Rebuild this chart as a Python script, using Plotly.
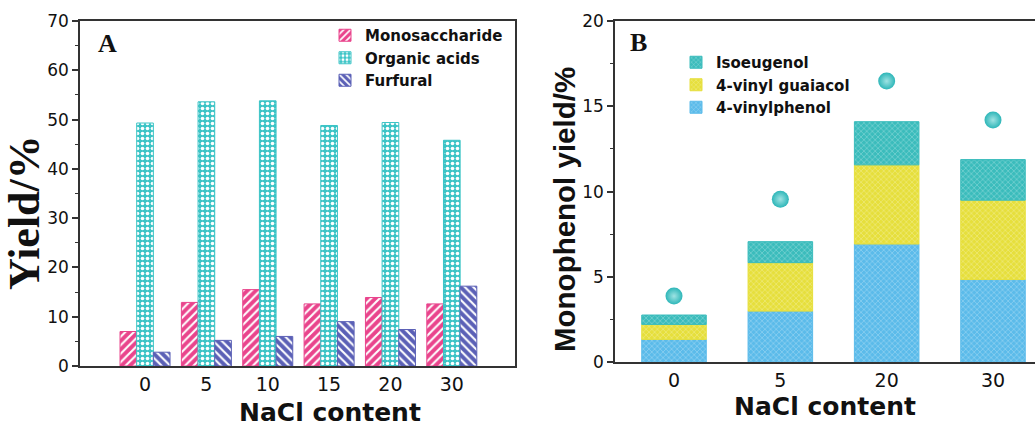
import plotly.graph_objects as go

# ---------------- data: panel A ----------------
nacl_a = ["0", "5", "10", "15", "20", "30"]
monosaccharide = [7.0, 12.9, 15.5, 12.6, 13.9, 12.6]
organic_acids = [49.3, 53.6, 53.8, 48.8, 49.4, 45.8]
furfural = [2.8, 5.2, 6.0, 9.0, 7.4, 16.2]

# ---------------- data: panel B ----------------
nacl_b = ["0", "5", "20", "30"]
vinylphenol = [1.34, 3.0, 6.93, 4.85]
vinyl_guaiacol = [0.88, 2.84, 4.64, 4.65]
isoeugenol = [0.55, 1.23, 2.53, 2.38]
total_monophenol = [3.88, 9.56, 16.48, 14.2]

# stacking bases derived from the data
base_guaiacol = list(vinylphenol)
base_isoeugenol = [a + b for a, b in zip(vinylphenol, vinyl_guaiacol)]

PINK = "#e9448c"
CYAN = "#3cc4c6"
PURPLE = "#5b60b6"
TEAL = "#3bbcbc"
YELLOW = "#e6df3c"
LBLUE = "#5bbbea"
AXC = "#333333"

SANS = "DejaVu Sans"
ARIAL = "Liberation Sans"
SERIF = "Liberation Serif"

W, H = 1035, 429

fig = go.Figure()


def pat_bar(name, x, y, color, shape, size, solidity, xaxis, yaxis, legend,
            fg="white", base=None, width=None, offsetgroup=None):
    return go.Bar(
        name=name, x=x, y=y, base=base, width=width, offsetgroup=offsetgroup,
        xaxis=xaxis, yaxis=yaxis, legend=legend,
        marker=dict(
            color=color,
            line=dict(color=color, width=1),
            pattern=dict(shape=shape, fgcolor=fg, bgcolor=color,
                         size=size, solidity=solidity, fillmode="replace"),
        ),
        hoverinfo="x+y+name",
    )


# Panel A grouped bars
fig.add_trace(pat_bar("Monosaccharide", nacl_a, monosaccharide, PINK, "/", 6, 0.35,
                      "x", "y", "legend"))
fig.add_trace(pat_bar("Organic acids", nacl_a, organic_acids, CYAN, ".", 5, 0.42,
                      "x", "y", "legend"))
fig.add_trace(pat_bar("Furfural", nacl_a, furfural, PURPLE, "\\", 6, 0.35,
                      "x", "y", "legend"))

# Panel B stacked bars (same offset group, bases from cumulative data)
BW = 0.607
MESH = "rgba(255,255,255,0.5)"
fig.add_trace(pat_bar("4-vinylphenol", nacl_b, vinylphenol, LBLUE, "x", 4, 0.22,
                      "x2", "y2", "legend2", fg=MESH, width=BW, offsetgroup="b"))
fig.add_trace(pat_bar("4-vinyl guaiacol", nacl_b, vinyl_guaiacol, YELLOW, "x", 4, 0.22,
                      "x2", "y2", "legend2", fg=MESH, base=base_guaiacol,
                      width=BW, offsetgroup="b"))
fig.add_trace(pat_bar("Isoeugenol", nacl_b, isoeugenol, TEAL, "x", 4, 0.22,
                      "x2", "y2", "legend2", fg=MESH, base=base_isoeugenol,
                      width=BW, offsetgroup="b"))

fig.add_trace(go.Scatter(
    name="Total monophenol", x=nacl_b, y=total_monophenol, mode="markers",
    xaxis="x2", yaxis="y2", showlegend=False,
    marker=dict(size=17, color="#2db6b8",
                gradient=dict(type="radial", color="#9fe3e3"),
                line=dict(width=0)),
))

fig.update_layout(
    width=W, height=H,
    margin=dict(l=0, r=0, t=0, b=0, autoexpand=False),
    paper_bgcolor="white", plot_bgcolor="white",
    barmode="group", bargap=0.185, bargroupgap=0,
    xaxis=dict(
        domain=[80 / W, 515 / W], anchor="y", automargin=False,
        type="category", range=[-1.06, 6.03],
        showline=True, mirror=True, linecolor=AXC, linewidth=1.5,
        ticks="", showgrid=False, zeroline=False,
        tickfont=dict(family=SANS, size=19, color="#111"),
    ),
    yaxis=dict(
        domain=[(H - 366) / H, (H - 21) / H], anchor="x", automargin=False,
        range=[0, 70], dtick=10,
        showline=True, mirror=True, linecolor=AXC, linewidth=1.5,
        ticks="outside", ticklen=6, tickwidth=1.5, tickcolor=AXC,
        minor=dict(ticks="outside", ticklen=3, dtick=5, tickcolor=AXC, tickwidth=1.2),
        showgrid=False, zeroline=False,
        tickfont=dict(family=SANS, size=17, color="#111"),
    ),
    xaxis2=dict(
        domain=[615 / W, 1.0], anchor="y2", automargin=False,
        type="category", range=[-0.555, 3.395],
        showline=True, mirror=True, linecolor=AXC, linewidth=1.5,
        ticks="", showgrid=False, zeroline=False,
        tickfont=dict(family=SANS, size=19, color="#111"),
        title=dict(text="NaCl content", standoff=8,
                   font=dict(family=SANS, size=25, color="#111", weight="bold")),
    ),
    yaxis2=dict(
        domain=[(H - 362.3) / H, (H - 21) / H], anchor="x2", automargin=False,
        range=[0, 20], dtick=5,
        showline=True, mirror=False, linecolor=AXC, linewidth=1.5,
        ticks="outside", ticklen=6, tickwidth=1.5, tickcolor=AXC,
        minor=dict(ticks="outside", ticklen=3, dtick=2.5, tickcolor=AXC, tickwidth=1.2),
        showgrid=False, zeroline=False,
        tickfont=dict(family=SANS, size=17, color="#111"),
    ),
    legend=dict(
        x=325 / W, y=(H - 19) / H, xanchor="left", yanchor="top",
        bgcolor="rgba(0,0,0,0)", traceorder="normal", itemwidth=30,
        font=dict(family=SANS, size=15, color="#111", weight="bold"),
        tracegroupgap=0,
    ),
    legend2=dict(
        x=676 / W, y=(H - 46) / H, xanchor="left", yanchor="top",
        bgcolor="rgba(0,0,0,0)", traceorder="reversed", itemwidth=30,
        font=dict(family=SANS, size=15, color="#111", weight="bold"),
        tracegroupgap=0,
    ),
    annotations=[
        dict(text="NaCl content", xref="paper", yref="paper",
             x=330 / W, y=(H - 412) / H,
             showarrow=False, xanchor="center", yanchor="middle",
             font=dict(family=SANS, size=25, color="#111", weight="bold")),
        dict(text="Yield/%", xref="paper", yref="paper", x=25 / W, y=(H - 213) / H,
             textangle=-90, showarrow=False, xanchor="center", yanchor="middle",
             font=dict(family=SERIF, size=44, color="#111", weight="bold")),
        dict(text="Monophenol yield/%", xref="paper", yref="paper",
             x=565 / W, y=(H - 210) / H,
             textangle=-90, showarrow=False, xanchor="center", yanchor="middle",
             font=dict(family=ARIAL, size=29.5, color="#111", weight="bold")),
        dict(text="A", xref="paper", yref="paper", x=107 / W, y=(H - 44) / H,
             showarrow=False, xanchor="center", yanchor="middle",
             font=dict(family=SERIF, size=26, color="#111", weight="bold")),
        dict(text="B", xref="paper", yref="paper", x=638 / W, y=(H - 42) / H,
             showarrow=False, xanchor="center", yanchor="middle",
             font=dict(family=SERIF, size=26, color="#111", weight="bold")),
    ],
)

fig.write_html(
    "out.html",
    config={"displayModeBar": False},
    post_script="document.body.style.margin='0';document.body.style.padding='0';",
)
